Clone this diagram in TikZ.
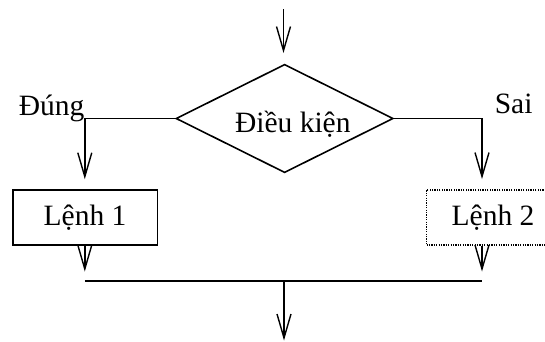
\documentclass[tikz,border=0pt]{standalone}
\usepackage{fontspec}
\setmainfont{Liberation Serif}
\usetikzlibrary{shapes.geometric,arrows.meta}
\begin{document}
\begin{tikzpicture}[x=1pt,y=-1pt,
  line width=1.6pt,
  every node/.style={font=\fontsize{29.5}{34}\selectfont},
  arr/.style={-{Straight Barb[length=24pt,width=14pt,line width=1.4pt]}},
  decision/.style={draw,diamond,aspect=2,inner sep=0pt,minimum width=217.3pt,minimum height=108.4pt},
  stmt/.style={draw,rectangle,inner sep=0pt,minimum height=55pt},
  dotbox/.style={stmt,line width=1.5pt,dash pattern=on 1.2pt off 1.2pt}]
\clip (0,0) rectangle (545,341);
\fill[white] (0,0) rectangle (545,341);
\node[decision] (cond) at (284.6,118.5) {};
\node[anchor=base] (condtext) at (292.8,132.7) {Điều kiện};
\node[stmt,minimum width=144.6pt] (box1) at (85,217.5) {Lệnh 1};
\node[dotbox,minimum width=133pt] (box2) at (493,217.3) {Lệnh 2};
\node[anchor=base west,inner sep=0pt] (yes) at (18,115.5) {Đúng};
\node[anchor=base west,inner sep=0pt] (no) at (494,113.5) {Sai};
\coordinate (in) at (283.5,9);
\coordinate (Lc) at (84.8,118.5);
\coordinate (Rc) at (482,118.5);
\coordinate (Lm) at (84.8,281);
\coordinate (Rm) at (482,281);
\coordinate (M) at (284,281);
\coordinate (out) at (284,340.5);
\draw[arr,shorten >=10.5pt] (in) -- (in |- cond.north);
\draw[arr,shorten >=10pt] (cond.west) -- (Lc) -- (Lc |- box1.north);
\draw[arr,shorten >=10pt] (cond.east) -- (Rc) -- (Rc |- box2.north);
\draw[arr,shorten >=9.5pt] (box1.south -| Lm) -- (Lm);
\draw[arr,shorten >=9.5pt] (box2.south -| Rm) -- (Rm);
\draw (Lm) -- (Rm);
\draw[arr] (M) -- (out);
\end{tikzpicture}
\end{document}
